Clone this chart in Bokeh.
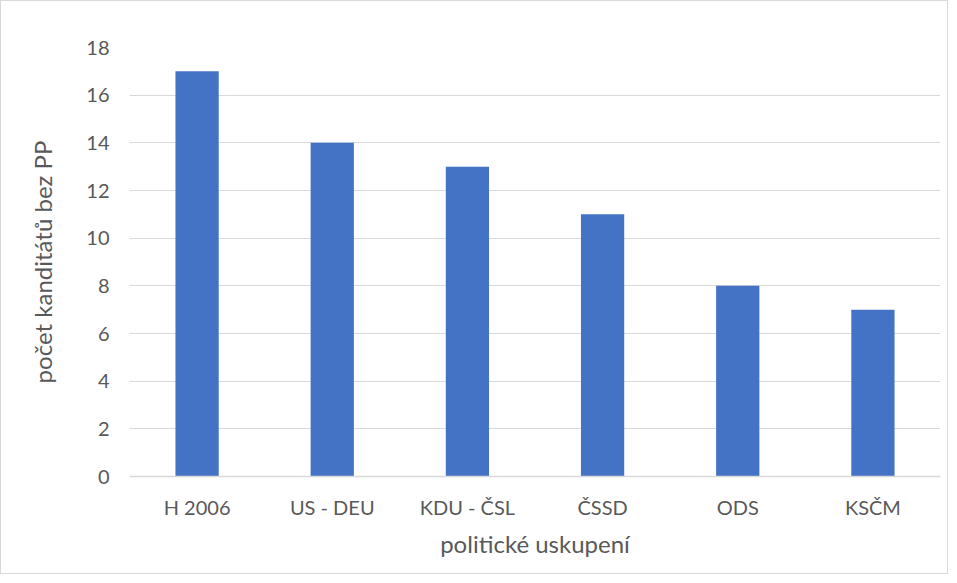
from bokeh.plotting import figure
from bokeh.models import FactorRange, Range1d, ColumnDataSource
from bokeh.embed import file_html
from bokeh.resources import INLINE

categories = ["H 2006", "US - DEU", "KDU - ČSL", "ČSSD", "ODS", "KSČM"]
values = [17, 14, 13, 11, 8, 7]
y_ticks = [0, 2, 4, 6, 8, 10, 12, 14, 16, 18]

src = ColumnDataSource(dict(cat=categories, val=values))

p = figure(width=948, height=574, output_backend="svg", toolbar_location=None,
           x_range=FactorRange(*categories, range_padding=0), y_range=Range1d(0, 18),
           min_border_left=128, min_border_right=9, min_border_top=46, min_border_bottom=99,
           styles={"border": "1px solid #d9d9d9"})

p.vbar(x="cat", top="val", width=0.32, source=src, color="#4472C4", line_color=None)

p.outline_line_color = None
p.xgrid.grid_line_color = None
p.ygrid.grid_line_color = "#d9d9d9"
p.ygrid.grid_line_width = 1
p.yaxis.ticker = y_ticks

font = "Lato"
for ax in (p.xaxis, p.yaxis):
    ax.axis_line_color = None
    ax.major_tick_line_color = None
    ax.minor_tick_line_color = None
    ax.major_label_text_font = font
    ax.major_label_text_font_size = "20px"
    ax.major_label_text_color = "#595959"
    ax.axis_label_text_font = font
    ax.axis_label_text_font_size = "24px"
    ax.axis_label_text_color = "#595959"
    ax.axis_label_text_font_style = "normal"

p.xaxis.axis_line_color = "#d9d9d9"
p.xaxis.axis_line_width = 1.5
p.yaxis.major_label_standoff = 14
p.xaxis.major_label_standoff = 12
p.yaxis.axis_label = "počet kanditátů bez PP"
p.xaxis.axis_label = "politické uskupení"
p.yaxis.axis_label_standoff = 26
p.xaxis.axis_label_standoff = 7

open("out.html", "w").write(file_html(p, INLINE))
